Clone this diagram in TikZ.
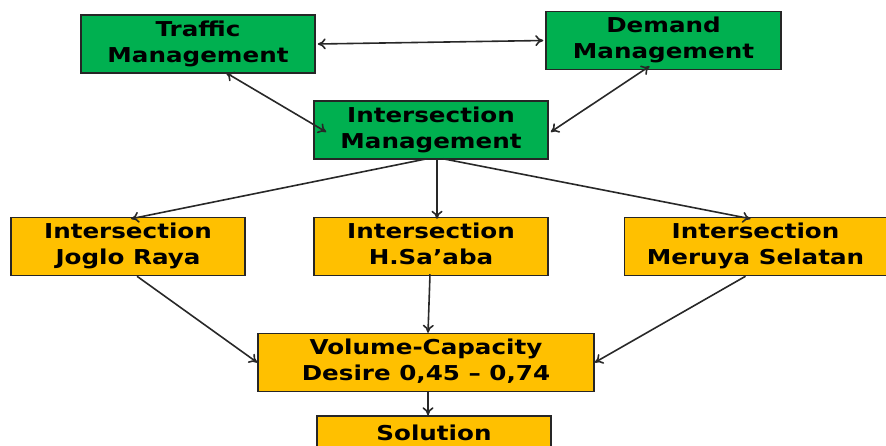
\documentclass[tikz,border=0pt]{standalone}
\usepackage{fontspec}
\setmainfont{DejaVu Sans}
\usetikzlibrary{arrows.meta}
\definecolor{boxgreen}{RGB}{0,176,80}
\definecolor{boxorange}{RGB}{255,192,0}
\definecolor{linegray}{RGB}{40,40,40}
\newcommand{\boxtext}[1]{\raisebox{-2pt}{\scalebox{1.2}[1]{\begin{tabular}{@{}c@{}}#1\end{tabular}}}}
\tikzset{
  mgmt/.style={draw=black!85, line width=1.5pt, fill=boxgreen, inner sep=0pt,
    minimum width=234pt, minimum height=58pt,
    font=\bfseries\fontsize{20.5}{26}\selectfont},
  site/.style={mgmt, fill=boxorange},
  link/.style={draw=linegray, line width=1.6pt, -{To[length=8pt,width=11pt]}},
  both/.style={link, {To[length=8pt,width=11pt]}-{To[length=8pt,width=11pt]}}
}
\begin{document}
\begin{tikzpicture}[x=1pt,y=-1pt]

  \useasboundingbox (0,0) rectangle (886,445);
  \clip (0,0) rectangle (886,445);

  % management boxes
  \node [mgmt] (traffic) at (198,44) {\boxtext{Traffic\\Management}};
  \node [mgmt, minimum width=235pt] (demand) at (663.5,40.5) {\boxtext{Demand\\Management}};
  \node [mgmt] (imgmt) at (431,130) {\boxtext{Intersection\\Management}};

  % intersections
  \node [site] (joglo) at (128,246.5) {\boxtext{Intersection\\Joglo Raya}};
  \node [site] (saaba) at (431,246.5) {\boxtext{Intersection\\H.Sa’aba}};
  \node [site, minimum width=262pt] (meruya) at (755.5,246.5) {\boxtext{Intersection\\Meruya Selatan}};

  % result
  \node [site, minimum width=336pt] (vc) at (426,362.5) {\boxtext{Volume-Capacity\\Desire 0,45 – 0,74}};
  \node [site] (solution) at (434,445) {};
  \node [font=\bfseries\fontsize{20.5}{26}\selectfont] (soltext) at (434,433) {\scalebox{1.2}[1]{Solution}};

  % links between management levels
  \draw [both] ([xshift=2pt]traffic.east) -- ([xshift=-2pt]demand.west);
  \draw [both] ([xshift=28pt,yshift=1pt]traffic.south) -- ([xshift=13pt,yshift=-2pt]imgmt.west);
  \draw [both] ([xshift=-14pt,yshift=4pt]demand.south) -- ([xshift=2pt,yshift=-2pt]imgmt.east);

  % to the intersections
  \draw [link] ([xshift=-4pt,yshift=1pt]imgmt.south) -- ([xshift=3pt,yshift=-2pt]joglo.north);
  \draw [link] ([xshift=6pt,yshift=1pt]imgmt.south) -- ([xshift=6pt,yshift=-2pt]saaba.north);
  \draw [link] ([xshift=12pt,yshift=1pt]imgmt.south) -- ([xshift=-5pt,yshift=-2pt]meruya.north);

  % to volume-capacity
  \draw [link] ([xshift=-1pt,yshift=2pt]saaba.south) -- ([xshift=2pt]vc.north);
  \draw [link] ([xshift=9pt]joglo.south) -- (vc.west);
  \draw [link] ([xshift=-10pt]meruya.south) -- (vc.east);
  \draw [link] ([xshift=2pt]vc.south) -- ([xshift=2pt]vc.south |- solution.north);

\end{tikzpicture}
\end{document}
